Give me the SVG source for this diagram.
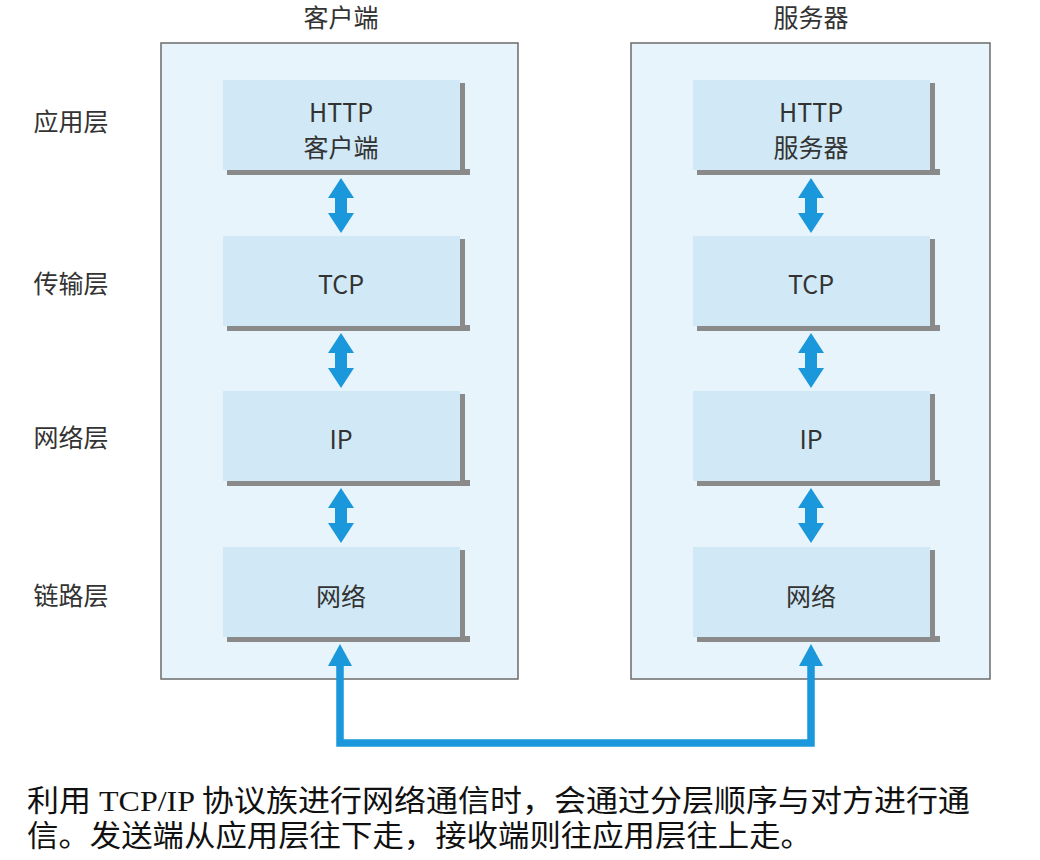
<svg xmlns="http://www.w3.org/2000/svg" xmlns:xlink="http://www.w3.org/1999/xlink" width="1040" height="860" viewBox="0 0 1040 860">
<style>
.outer{fill:#e7f4fb;stroke:#6b6b6b;stroke-width:1.5}
.inner{fill:#d1e9f6}
.shadow{fill:#8a8a8a}
.lbl{font-family:"Noto Sans CJK SC","Noto Sans",sans-serif;font-size:25px;fill:#333;text-anchor:middle}
.cap{font-family:"Liberation Serif","Noto Sans CJK SC",serif;font-size:30px;fill:#111}
.arr{fill:#1a98db}
.wire{fill:none;stroke:#1a98db;stroke-width:7.5}
</style>
<defs>
<polygon id="dbl" class="arr" points="0,0 13,20 6,20 6,35 13,35 0,55 -13,35 -6,35 -6,20 -13,20"/>
<g id="box">
<rect class="shadow" x="-114" y="89" width="243" height="6"/>
<rect class="shadow" x="119" y="3" width="5" height="92"/>
<rect class="inner" x="-118" y="0" width="237" height="90"/>
</g>
<polygon id="head" class="arr" points="0,0 12,22 -12,22"/>
</defs>
<rect width="1040" height="860" fill="#fff"/>
<text class="lbl" x="341" y="27">客户端</text>
<text class="lbl" x="811" y="27">服务器</text>
<text class="lbl" x="71" y="131">应用层</text>
<text class="lbl" x="71" y="293">传输层</text>
<text class="lbl" x="71" y="447">网络层</text>
<text class="lbl" x="71" y="605">链路层</text>
<g id="client">
<rect class="outer" x="161" y="43" width="357" height="636"/>
</g>
<g id="server">
<rect class="outer" x="631" y="43" width="359" height="636"/>
</g>
<g id="c-http"><use xlink:href="#box" x="341" y="80"/><text class="lbl" x="341" y="122">HTTP</text><text class="lbl" x="341" y="157">客户端</text></g>
<g id="c-tcp"><use xlink:href="#box" x="341" y="236"/><text class="lbl" x="341" y="294">TCP</text></g>
<g id="c-ip"><use xlink:href="#box" x="341" y="391"/><text class="lbl" x="341" y="449">IP</text></g>
<g id="c-net"><use xlink:href="#box" x="341" y="547"/><text class="lbl" x="341" y="606">网络</text></g>
<g id="s-http"><use xlink:href="#box" x="811" y="80"/><text class="lbl" x="811" y="122">HTTP</text><text class="lbl" x="811" y="157">服务器</text></g>
<g id="s-tcp"><use xlink:href="#box" x="811" y="236"/><text class="lbl" x="811" y="294">TCP</text></g>
<g id="s-ip"><use xlink:href="#box" x="811" y="391"/><text class="lbl" x="811" y="449">IP</text></g>
<g id="s-net"><use xlink:href="#box" x="811" y="547"/><text class="lbl" x="811" y="606">网络</text></g>
<g id="connectors">
<use xlink:href="#dbl" x="341" y="178"/>
<use xlink:href="#dbl" x="341" y="333"/>
<use xlink:href="#dbl" x="341" y="488"/>
<use xlink:href="#dbl" x="811" y="178"/>
<use xlink:href="#dbl" x="811" y="333"/>
<use xlink:href="#dbl" x="811" y="488"/>
<path class="wire" d="M340 664 V743 H811 V664"/>
<use xlink:href="#head" x="340" y="644"/>
<use xlink:href="#head" x="811" y="644"/>
</g>
<text class="cap" x="27" y="811" textLength="943" lengthAdjust="spacingAndGlyphs">利用 TCP/IP 协议族进行网络通信时，会通过分层顺序与对方进行通</text>
<text class="cap" x="27" y="846" textLength="785" lengthAdjust="spacingAndGlyphs">信。发送端从应用层往下走，接收端则往应用层往上走。</text>
</svg>
